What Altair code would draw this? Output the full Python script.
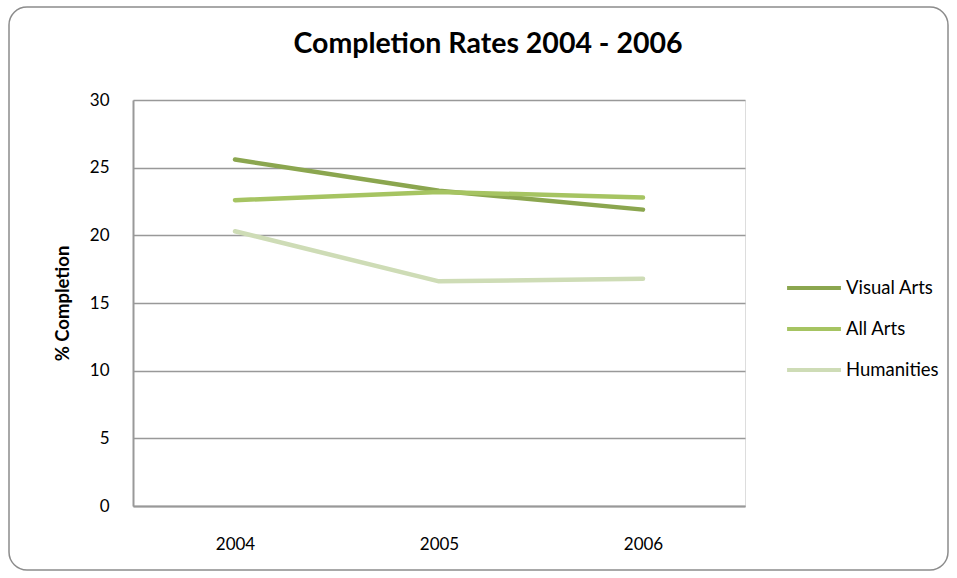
import altair as alt
import pandas as pd

years = ["2004", "2005", "2006"]
visual_arts = [25.6, 23.3, 21.9]
all_arts = [22.6, 23.2, 22.8]
humanities = [20.3, 16.6, 16.8]

series = ["Visual Arts", "All Arts", "Humanities"]
colors = ["#8ba64f", "#a6c462", "#cedcb6"]

rows = []
for name, vals in zip(series, [visual_arts, all_arts, humanities]):
    for yr, v in zip(years, vals):
        rows.append({"Year": yr, "Series": name, "Completion": v})
df = pd.DataFrame(rows)

FONT = "Lato"

# rounded outer frame around the whole chart
frame = alt.Chart(pd.DataFrame({"k": [0]})).mark_rect(
    filled=False, stroke="#8c8c8c", strokeWidth=1.5, cornerRadius=18, clip=False
).encode(
    x=alt.value(-124), x2=alt.value(815), y=alt.value(-93), y2=alt.value(470)
)

lines = alt.Chart(df).mark_line(strokeWidth=4.5, strokeCap="round", strokeJoin="round").encode(
    x=alt.X("Year:N", sort=years,
            scale=alt.Scale(paddingInner=1, paddingOuter=0.5),
            axis=alt.Axis(title=None, labelAngle=0, ticks=False, grid=False,
                          labelPadding=30, labelFontSize=17, labelFont=FONT,
                          labelColor="#000000", domainColor="#999999", domainWidth=2)),
    y=alt.Y("Completion:Q", scale=alt.Scale(domain=[0, 30], nice=False),
            axis=alt.Axis(title="% Completion", values=[0, 5, 10, 15, 20, 25, 30],
                          ticks=False, labelPadding=24, labelFontSize=17, labelFont=FONT,
                          labelColor="#000000", domainColor="#999999", domainWidth=2,
                          gridColor="#999999", gridWidth=1.5,
                          titleFont=FONT, titleFontSize=18.5, titleFontWeight="bold",
                          titleColor="#000000", titlePadding=17)),
    color=alt.Color("Series:N", sort=series,
                    scale=alt.Scale(domain=series, range=colors),
                    legend=alt.Legend(title=None, orient="none", legendX=652, legendY=159,
                                      symbolType="stroke", symbolSize=2900,
                                      symbolStrokeWidth=4, labelFontSize=18.5,
                                      labelFont=FONT, labelColor="#000000",
                                      rowPadding=2, labelOffset=3)),
    order=alt.Order("Year:N"),
)

chart = alt.layer(frame, lines).properties(
    width=612, height=406,
    title=alt.TitleParams("Completion Rates 2004 - 2006", font=FONT, fontSize=28.5,
                          fontWeight="bold", color="#000000", anchor="middle",
                          offset=-52, dx=49),
    autosize=alt.AutoSizeParams(type="none"),
    padding={"left": 133, "top": 100, "right": 212, "bottom": 72},
).configure_view(stroke=None).configure(background="#ffffff")

chart.save("out.html", embed_options={"renderer": "svg", "actions": False})
